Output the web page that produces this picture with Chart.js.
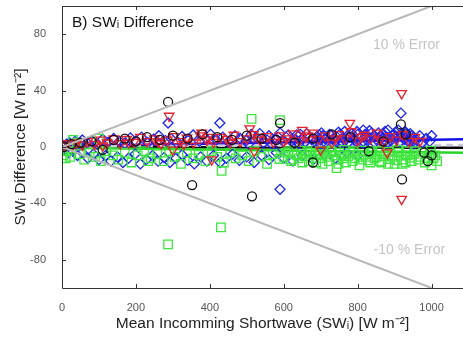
<!DOCTYPE html>
<html>
<head>
<meta charset="utf-8">
<script src="https://cdn.jsdelivr.net/npm/chart.js@4"></script>
<style>
  body { margin: 0; background: #fff; }
  #grafico { display: block; }
</style>
</head>
<body>
<canvas id="grafico" width="463" height="337"></canvas>
<script>
//..........DADOS..........
var ticksX = [0, 200, 400, 600, 800, 1000];
var ticksY = [-80, -40, 0, 40, 80];

// circulos pretos [SW, diferenca]
var circulosPretos = [
  [5,0],[25,2],[50,3],[80,4],[110,-2],[140,5],[170,6],[200,4],[230,7],[265,5],[300,8],
  [340,6],[380,9],[420,7],[460,5],[500,8],[540,6],[580,5],[630,3],[680,6],[730,9],[780,7],
  [830,-3],[870,4],[930,9],[980,-4],[1000,-6],
  [287,32],[590,17],[917,16],[920,-23],[352,-27],[514,-35],[679,-11],[990,-10]
];

// triangulos vermelhos
var triangulosVermelhos = [
  [5,1],[15,2.5],[28,0.5],[40,3],[55,1.5],[70,4],[88,2],[105,5],[122,3],[140,6],[158,2.5],
  [175,5.5],[195,3.5],[212,7],[230,4],[250,6],[268,2.5],[285,5],[302,7.5],[320,4],[338,6.5],
  [356,3],[374,8],[392,5],[410,3.5],[428,7],[446,5.5],[465,8.5],[482,4],[500,6],[518,9],
  [536,5],[555,7.5],[572,3.5],[590,8],[608,6],[625,9.5],[642,4.5],[660,7],[678,10],[695,5.5],
  [712,8],[730,3],[748,9],[765,6],[782,11],[800,4.5],[818,8.5],[835,6],[852,10],[870,3.5],
  [888,7.5],[905,5],[922,9],[940,4],[955,7],[300,-2],[520,-3],[700,-2],[880,-4],
  [110,1],[180,3],[260,4],[330,2],[395,7],[455,3],[530,7],[600,4],[665,8],[740,6],[810,7],[860,5],
  [919,38],[919,-37],[290,22],[378,10],[508,13],[779,17],[405,-9],[968,4],[650,12]
];

// quadrados verdes
var quadradosVerdes = [
  [3,-6],[10,-8],[15,-3],[22,-7],[30,5],[40,3],[48,-5],[60,-9],[75,-4],[90,-7],[105,-10],
  [120,-3],[138,-6],[152,-9],[170,-4],[188,-11],[205,-6],[222,-3],[240,-8],[258,-5],[275,-10],
  [290,-3],[305,-7],[322,-12],[338,-4],[355,-8],[370,-5.5],[388,-10],[405,-3],[420,-7],
  [438,-11],[455,-4],[470,-8],[488,-6],[505,-10],[520,-3],[538,-7],[555,-12],[570,-5],
  [588,-8.5],[605,-4],[620,-10],[636,-6],[650,-11],[664,-3],[678,-8],[692,-5],[705,-12],
  [718,-7],[730,-3.5],[742,-9],[755,-6],[768,-11],[780,-4],[792,-8],[805,-13],[816,-5.5],
  [828,-9.5],[840,-3],[852,-7],[864,-11],[876,-5],[888,-8.5],[900,-12],[912,-4],[924,-9],
  [935,-6],[946,-10],[958,-3],[970,-7],[982,-11],[995,-5],[1005,-8],[1000,-13],
  [600,-7],[612,-3],[618,-9],[628,-5],[640,-8],[646,-2.5],[656,-6.5],[668,-10],[672,-4],
  [684,-6],[688,-11],[698,-3],[702,-8],[712,-5],[722,-10],[726,-2.5],[736,-6],[748,-12],
  [750,-4],[760,-8],[764,-2],[774,-6.5],[786,-10],[788,-3],[798,-5.5],[810,-9],[812,-2.5],
  [822,-7],[834,-11],[836,-4],[846,-8],[858,-3],[860,-10],[870,-6.5],[882,-12],[884,-3.5],
  [894,-7],[906,-9.5],[908,-2],[918,-6],[930,-11],[932,-3],[942,-7.5],[952,-5],[964,-9],
  [976,-4],[988,-8],[998,-2.5],[1010,-6],[1015,-10],
  [287,-69],[430,-57],[590,19],[513,20],[432,-17],[233,-10],[743,-15],[920,-12],[100,6]
];

// losangos azuis
var losangosAzuis = [
  [5,1],[12,2],[20,3],[28,1.5],[35,4],[45,2.5],[55,5],[68,3],[80,4.5],[95,2],[110,5.5],
  [125,3.5],[140,6],[155,4],[170,2.5],[185,6.5],[200,4],[215,7],[232,3],[248,5.5],[262,8],
  [280,4.5],[295,6],[310,3],[325,7.5],[340,5],[355,8.5],[372,4],[388,6.5],[402,9],[418,5],
  [435,7],[450,3.5],[468,8],[482,6],[498,4.5],[512,9],[528,6.5],[545,3],[560,8],[575,5.5],
  [590,10],[606,7],[620,4],[635,8.5],[650,6],[662,9.5],[676,5],[690,7.5],[702,10],[715,6],
  [728,8.5],[740,4.5],[752,9],[765,11],[778,7],[790,5],[802,9.5],[815,12],[826,7.5],[838,10],
  [850,5.5],[862,8],[874,11],[886,6.5],[898,9],[910,12],[920,7],[930,10],[938,5],[945,8],
  [880,3],[820,2.5],[760,3],[700,2],[640,2.5],
  [505,2],[535,9.5],[555,5],[568,2],[585,7],[598,4],[612,8.5],[630,5],[645,9],[658,3.5],
  [670,7],[684,4],[696,8.5],
  [700,5],[706,8],[712,3],[718,6.5],[724,9],[732,5.5],[736,2],[744,7],[748,10.5],[756,4],
  [760,6],[772,8],[776,3.5],[784,9.5],[788,6],[796,4],[798,11],[808,7],[812,3],[820,9],
  [824,5],[832,11.5],[836,6.5],[844,8],[846,3],[856,10],[858,6],[866,4],[868,9.5],[878,7],
  [882,12],[890,4.5],[894,8],[902,10.5],[904,6],[914,3.5],[916,9],[926,5.5],[928,11],
  [934,7.5],[940,3],[942,9.5],[948,6],[952,2],[960,5],[968,8],[975,3],[985,6],[995,4],
  [8,-2],[18,-4],[30,-3],[42,-6],[55,-4],[70,-8],[85,-5],[100,-9],[118,-6],[132,-10],[150,-7],
  [165,-11],[180,-8],[198,-5],[212,-12],[228,-9],[245,-6],[260,-10],[276,-7.5],[292,-11],
  [308,-8],[325,-5.5],[340,-9.5],[358,-12],[375,-7],[392,-10],[410,-6],[428,-11],[445,-8],
  [462,-5],[480,-9.5],[500,-7],[520,-11],[540,-6],[560,-9],[580,-4],[600,-8],[625,-10],
  [650,-6],[680,-9],[710,-5],[740,-8],[770,-4],[800,-6],
  [287,17],[427,17],[917,24],[590,-30],[1000,8],[950,4]
];

// retas de ajuste e de erro
var retaPreta = [[0,0],[1085,-0.5]];
var retaAzul = [[0,0.5],[1085,5.5]];
var retaVerde = [[0,-0.5],[1085,-4]];
var retaVermelha = [[0,0.5],[1000,6.5]];
var retaTracejada = [[0,0.5],[1085,1.5]];
var erroMais = [[0,0],[1000,100]];
var erroMenos = [[0,0],[1000,-100]];

function pontos(lista) {
  return lista.map(function (p) { return { x: p[0], y: p[1] }; });
}

function reta(lista, cor, largura, tracejado) {
  return {
    type: 'line',
    data: pontos(lista),
    borderColor: cor,
    borderWidth: largura,
    borderDash: tracejado || [],
    pointRadius: 0,
    showLine: true,
    fill: false
  };
}

// moldura, marcas internas e textos do grafico
var moldura = {
  id: 'moldura',
  afterDraw: function (chart) {
    var ctx = chart.ctx;
    var a = chart.chartArea;
    var sx = chart.scales.x, sy = chart.scales.y;
    ctx.save();
    ctx.strokeStyle = '#333';
    ctx.lineWidth = 1;
    ctx.beginPath();
    ctx.moveTo(a.right + 1, a.top + 0.5);
    ctx.lineTo(a.left + 0.5, a.top + 0.5);
    ctx.lineTo(a.left + 0.5, a.bottom + 0.5);
    ctx.lineTo(a.right + 1, a.bottom + 0.5);
    ticksX.forEach(function (v) {
      var px = Math.round(sx.getPixelForValue(v)) + 0.5;
      ctx.moveTo(px, a.bottom);
      ctx.lineTo(px, a.bottom - 4);
      ctx.moveTo(px, a.top);
      ctx.lineTo(px, a.top + 4);
    });
    ticksY.forEach(function (v) {
      var py = Math.round(sy.getPixelForValue(v)) + 0.5;
      ctx.moveTo(a.left, py);
      ctx.lineTo(a.left + 4, py);
    });
    ctx.stroke();

    ctx.fillStyle = '#111';
    ctx.font = '15.5px "Liberation Sans", Arial, sans-serif';
    ctx.textBaseline = 'middle';
    ctx.textAlign = 'left';
    ctx.fillText('B) SWᵢ Difference', a.left + 10, a.top + 17);

    ctx.fillStyle = '#c4c4c4';
    ctx.font = '14px "Liberation Sans", Arial, sans-serif';
    ctx.textAlign = 'center';
    ctx.fillText('10 % Error', sx.getPixelForValue(932), sy.getPixelForValue(72));
    ctx.fillText('-10 % Error', sx.getPixelForValue(940), sy.getPixelForValue(-73));
    ctx.restore();
  }
};

var ctx = document.getElementById('grafico').getContext('2d');
var grafico = new Chart(ctx, {
  type: 'scatter',
  data: {
    datasets: [
      reta(erroMais, '#b8b8b8', 2),
      reta(erroMenos, '#b8b8b8', 2),
      {
        data: pontos(circulosPretos),
        pointStyle: 'circle',
        pointRadius: 4.5,
        borderColor: '#111',
        backgroundColor: 'rgba(0,0,0,0)',
        borderWidth: 1.3
      },
      {
        data: pontos(triangulosVermelhos),
        pointStyle: 'triangle',
        rotation: 180,
        pointRadius: 5.5,
        borderColor: '#e8202a',
        backgroundColor: 'rgba(0,0,0,0)',
        borderWidth: 1.3
      },
      {
        data: pontos(quadradosVerdes),
        pointStyle: 'rect',
        pointRadius: 6,
        borderColor: '#3ee63e',
        backgroundColor: 'rgba(0,0,0,0)',
        borderWidth: 1.3
      },
      {
        data: pontos(losangosAzuis),
        pointStyle: 'rectRot',
        pointRadius: 5,
        borderColor: '#1c24f0',
        backgroundColor: 'rgba(0,0,0,0)',
        borderWidth: 1.3
      },
      reta(retaTracejada, '#c9c9dc', 2.5, [7, 5]),
      reta(retaVermelha, '#d81a4a', 1.2),
      reta(retaVerde, '#2bd42b', 2.5),
      reta(retaAzul, '#1414e6', 2.5),
      reta(retaPreta, '#000', 2.5)
    ]
  },
  options: {
    responsive: false,
    animation: false,
    layout: { autoPadding: false, padding: { top: 6, right: 0, left: 0, bottom: 0 } },
    plugins: { legend: { display: false }, tooltip: { enabled: false } },
    scales: {
      x: {
        type: 'linear',
        min: 0,
        max: 1085,
        grid: { display: false },
        border: { display: false },
        afterBuildTicks: function (s) { s.ticks = ticksX.map(function (v) { return { value: v }; }); },
        afterFit: function (s) { s.height = 49; s.paddingLeft = 0; s.paddingRight = 0; },
        ticks: {
          padding: 5,
          maxRotation: 0,
          color: '#555',
          callback: function (v) { return String(v); },
          font: { family: '"Liberation Sans", Arial, sans-serif', size: 11 }
        },
        title: {
          display: true,
          text: 'Mean Incomming Shortwave (SWᵢ) [W m⁻²]',
          color: '#222',
          padding: { top: 0, bottom: 4 },
          font: { family: '"Liberation Sans", Arial, sans-serif', size: 15.5 }
        }
      },
      y: {
        type: 'linear',
        min: -100,
        max: 100,
        grid: { display: false },
        border: { display: false },
        afterBuildTicks: function (s) { s.ticks = ticksY.map(function (v) { return { value: v }; }); },
        afterFit: function (s) { s.width = 62; s.paddingTop = 0; s.paddingBottom = 0; },
        ticks: {
          padding: 8,
          color: '#555',
          callback: function (v) { return String(v); },
          font: { family: '"Liberation Sans", Arial, sans-serif', size: 11 }
        },
        title: {
          display: true,
          text: 'SWᵢ Difference [W m⁻²]',
          color: '#222',
          padding: { top: 11, bottom: 0 },
          font: { family: '"Liberation Sans", Arial, sans-serif', size: 15.5 }
        }
      }
    }
  },
  plugins: [moldura]
});
</script>
</body>
</html>
